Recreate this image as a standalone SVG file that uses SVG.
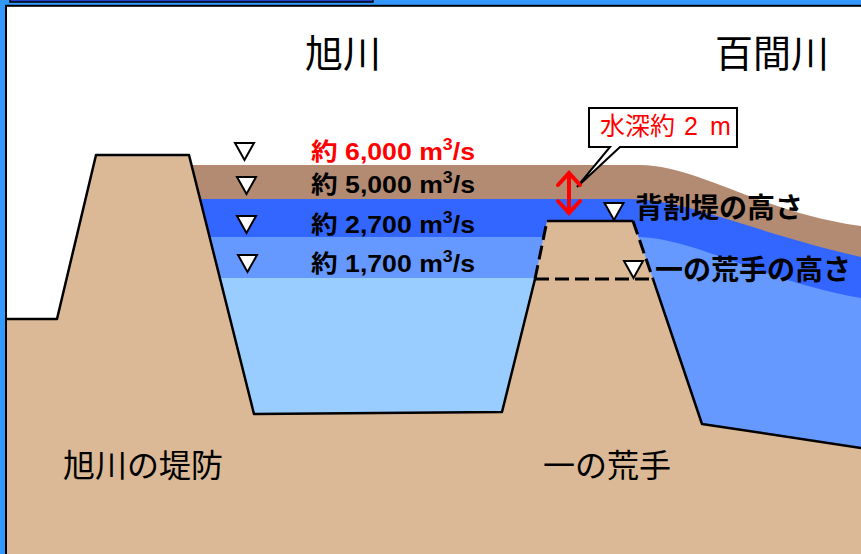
<svg xmlns="http://www.w3.org/2000/svg" xmlns:xlink="http://www.w3.org/1999/xlink" width="861" height="554" viewBox="0 0 861 554">
  <defs>
    <style>
      .outline { fill: none; stroke: #000; stroke-width: 2.5; stroke-linejoin: round; }
      .dash { fill: none; stroke: #000; stroke-width: 3; stroke-dasharray: 14 6; }
      .mark { fill: #fff; stroke: #000; stroke-width: 2; stroke-linejoin: miter; }
      .flow { font-family: "Liberation Sans", "Noto Sans CJK JP", sans-serif; font-weight: bold; font-size: 24px; fill: #000; }
      .title { font-family: "Noto Sans CJK JP", sans-serif; font-size: 38px; fill: #000; }
      .name { font-family: "Noto Sans CJK JP", sans-serif; font-size: 32px; fill: #000; }
      .level { font-family: "Noto Sans CJK JP", sans-serif; font-weight: bold; font-size: 28px; fill: #000; }
      .depth { font-family: "Liberation Sans", "Noto Sans CJK JP", sans-serif; font-size: 25px; fill: #ff0000; }
    </style>
    <path id="tri" d="M-9.5,0 H9.5 L0,17 Z"/>
  </defs>

  <!-- frame -->
  <g id="frame">
    <rect x="0" y="0" width="861" height="554" fill="#3399ff"/>
    <rect x="10" y="-2" width="363" height="4" fill="#2244cc" stroke="#000" stroke-width="1.5"/>
    <rect x="6" y="5.8" width="857" height="550" fill="#fff" stroke="#000" stroke-width="2"/>
  </g>

  <!-- water levels -->
  <g id="water">
    <path d="M180,165 H640 C700,166 760,212 861,226 V554 H180 Z" fill="#b38b72"/>
    <path d="M180,199 H630 C690,200 745,230 861,257 V554 H180 Z" fill="#3366ff"/>
    <path d="M180,237 H640 C700,240 760,280 861,298 V554 H180 Z" fill="#6699ff"/>
    <rect x="180" y="278" width="380" height="150" fill="#99ccff"/>
  </g>

  <!-- embankments -->
  <g id="ground">
    <path d="M7,319 L57,319 L96,155 L189,155 L254,414 L502,412 L535,279 L547,221 L633,221 L653,279 L702,424 L861,448 L861,554 L7,554 Z" fill="#dbb997"/>
    <path class="outline" d="M7,319 L57,319 L96,155 L189,155 L254,414 L502,412 L535,279"/>
    <path class="outline" d="M547,221 L633,221"/>
    <path class="outline" d="M653,279 L702,424 L861,448"/>
    <path class="dash" d="M535,279 L547,221 M633,221 L653,279 M535,279 H653"/>
  </g>

  <!-- level marks -->
  <g id="marks">
    <use xlink:href="#tri" class="mark" x="244.5" y="143"/>
    <use xlink:href="#tri" class="mark" x="246.5" y="177"/>
    <use xlink:href="#tri" class="mark" x="246.5" y="216"/>
    <use xlink:href="#tri" class="mark" x="247.5" y="255"/>
    <use xlink:href="#tri" class="mark" x="614" y="203"/>
    <use xlink:href="#tri" class="mark" x="633.5" y="261"/>
  </g>

  <!-- discharge labels -->
  <g id="flows">
    <text class="flow" x="311" y="160" textLength="164" lengthAdjust="spacingAndGlyphs" style="fill:#ff0000">約 6,000 m<tspan font-size="16" dy="-10">3</tspan><tspan dy="10">/s</tspan></text>
    <text class="flow" x="311" y="193" textLength="164" lengthAdjust="spacingAndGlyphs">約 5,000 m<tspan font-size="16" dy="-10">3</tspan><tspan dy="10">/s</tspan></text>
    <text class="flow" x="311" y="233" textLength="164" lengthAdjust="spacingAndGlyphs">約 2,700 m<tspan font-size="16" dy="-10">3</tspan><tspan dy="10">/s</tspan></text>
    <text class="flow" x="311" y="272" textLength="164" lengthAdjust="spacingAndGlyphs">約 1,700 m<tspan font-size="16" dy="-10">3</tspan><tspan dy="10">/s</tspan></text>
  </g>

  <!-- depth callout -->
  <g id="depth">
    <path d="M589,108 H737 V147 H620 L577,187 L610,147 H589 Z" fill="#fff" stroke="#000" stroke-width="2" stroke-linejoin="miter"/>
    <text class="depth" x="600" y="135">水深約<tspan x="684">2</tspan><tspan x="710">m</tspan></text>
    <path d="M569,173 V213 M558,185 L569,173 L580,185 M558,201 L569,213 L580,201" fill="none" stroke="#ff0000" stroke-width="4" stroke-linecap="round"/>
  </g>

  <!-- names -->
  <g id="labels">
    <text class="title" x="305" y="67">旭川</text>
    <text class="title" x="715" y="67">百間川</text>
    <text class="level" x="635" y="218">背割堤の高さ</text>
    <text class="level" x="655" y="280">一の荒手の高さ</text>
    <text class="name" x="63" y="477">旭川の堤防</text>
    <text class="name" x="543" y="477">一の荒手</text>
  </g>
</svg>
